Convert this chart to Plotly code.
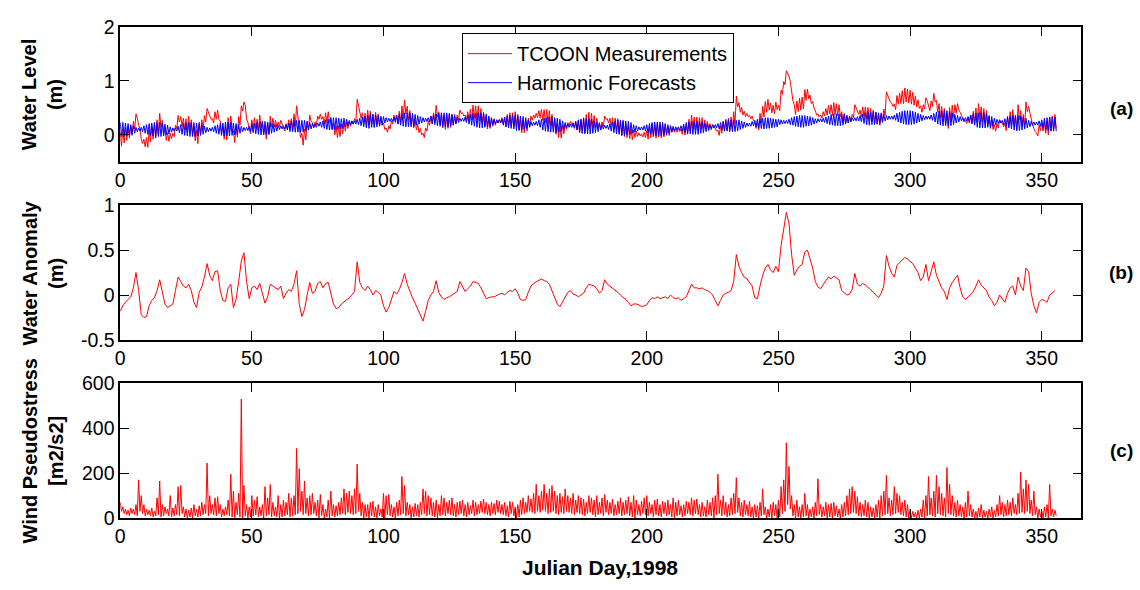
import numpy as np
import plotly.graph_objects as go

# ---------------- data (daily) ----------------
days = list(range(356))  # Julian day index 0..355

# Harmonic forecast: daily high / daily low (cm)
tide_hi_cm = [
 23,23,22,21,19,17,14,13,14,17, 19,21,22,23,23,23,22,20,18,15,
 13,13,16,19,21,22,23,23,23,22, 21,19,16,14,13,14,17,19,21,22,
 24,24,23,22,21,19,16,14,14,16, 20,22,23,24,24,25,24,23,21,19,
 18,17,17,19,22,26,27,27,27,27, 27,25,23,21,20,22,24,26,28,29,
 32,32,32,31,30,31,29,27,26,26, 29,31,33,35,36,38,38,37,36,34,
 34,32,31,31,33,36,38,40,41,41, 41,40,38,36,34,32,31,32,35,37,
 39,40,41,41,41,40,38,36,33,31, 31,33,36,38,40,40,41,41,40,39,
 35,32,30,28,28,30,33,35,36,37, 36,36,35,34,32,28,25,24,25,28,
 29,31,32,33,33,32,31,29,26,23, 20,20,22,25,28,29,30,30,30,29,
 26,24,21,19,18,18,21,24,26,27, 27,27,26,25,23,19,17,15,15,17,
 19,21,23,24,24,24,23,21,19,17, 16,15,15,17,20,23,24,25,25,25,
 25,24,22,20,18,19,19,21,23,25, 27,28,28,28,27,28,26,24,22,22,
 25,27,29,30,31,32,32,31,30,29, 29,28,27,27,29,32,34,35,36,36,
 36,35,34,32,30,30,30,31,33,35, 38,39,39,39,38,38,36,34,32,32,
 34,36,39,41,42,43,43,42,41,39, 38,36,35,35,37,40,42,44,45,45,
 45,44,42,40,38,36,35,35,37,40, 42,44,45,45,45,43,41,38,36,34,
 32,32,34,37,40,40,41,41,41,40, 36,34,31,29,28,27,30,33,35,37,
 36,36,35,33,31,27,25,24,24,26, 28,31,32,33,33,33]
tide_lo_cm = [
 -3,-3,-2,-1,1,3,6,7,6,3, 1,-1,-2,-3,-3,-3,-2,0,2,5,
 7,7,4,1,-1,-2,-3,-3,-3,-2, -1,1,4,6,7,6,3,1,-1,-2,
 -2,-2,-1,0,1,3,6,8,8,6, 4,2,1,0,0,1,2,3,5,7,
 10,11,11,9,6,6,5,5,5,5, 7,9,11,13,14,16,14,12,10,9,
 10,10,10,11,12,15,17,19,20,20, 19,17,15,13,12,14,14,15,16,18,
 22,24,25,25,23,20,18,16,15,15, 15,16,18,20,22,24,25,24,21,19,
 17,16,15,15,15,16,18,20,23,25, 25,23,20,18,16,14,13,13,14,15,
 15,18,20,22,22,18,15,13,12,11, 8,8,9,10,12,14,17,18,17,14,
 9,7,6,5,5,4,5,7,10,13, 14,14,12,9,6,3,2,2,2,3,
 4,6,9,11,12,10,7,4,2,1, -1,-1,0,1,3,5,7,9,9,7,
 3,1,-1,-2,-2,-2,-1,1,3,5, 8,9,9,7,4,3,2,1,1,1,
 3,4,6,8,10,13,13,11,9,7, 7,6,6,6,7,10,12,14,16,16,
 17,15,13,12,11,12,12,13,14,15, 19,20,21,21,19,18,16,15,14,14,
 16,17,18,20,22,24,24,23,21,19, 18,17,17,17,18,20,22,24,26,26,
 26,24,21,19,18,19,19,20,21,23, 26,28,29,29,27,24,22,20,19,19,
 19,20,22,24,26,28,29,29,27,24, 20,18,17,17,17,17,19,22,24,26,
 26,26,24,21,18,14,13,13,13,14, 14,16,19,21,22,19,16,13,11,9,
 8,8,9,11,13,15,17,18,18,16, 12,9,8,7,7,7]

# TCOON measurements: daily high / daily low (cm)
meas_hi_cm = [
 5,11,14,16,17,25,39,18,-8,-8, -5,9,16,20,28,40,27,10,4,3,
 3,18,36,34,31,30,35,28,15,8, 24,28,36,49,35,30,43,46,26,16,
 17,32,35,8,16,34,54,61,29,12, 28,32,29,37,26,16,22,35,31,27,
 24,27,13,21,28,30,39,54,17,3, 11,25,37,23,24,35,39,34,41,43,
 32,22,17,17,20,23,24,24,26,30, 66,45,41,40,46,44,38,42,39,34,
 22,13,17,26,37,37,44,54,65,53, 45,37,29,20,12,3,13,26,35,41,
 55,43,39,36,38,38,38,38,37,46, 41,37,43,48,55,54,54,49,42,35,
 32,30,28,28,29,32,33,38,41,41, 43,38,30,28,27,31,35,37,40,45,
 47,47,47,45,38,29,21,16,18,20, 23,25,23,25,26,29,32,38,42,40,
 36,31,23,24,35,30,31,32,31,30, 27,25,21,17,11,9,7,4,2,5,
 8,15,20,20,22,20,20,19,15,17, 13,11,12,11,16,21,29,37,33,33,
 32,32,28,25,21,19,13,9,17,25, 29,31,33,43,72,60,51,44,40,36,
 35,24,25,40,53,62,66,59,55,61, 55,83,99,119,109,77,56,63,68,70,
 84,85,74,62,45,39,37,43,49,55, 56,60,58,56,43,40,36,35,38,56,
 46,46,52,52,51,49,46,42,38,41, 48,80,67,59,57,73,78,82,87,85,
 83,79,72,65,54,56,69,51,63,77, 64,58,53,49,40,51,55,56,58,42,
 30,27,32,37,44,50,58,52,49,45, 34,28,19,21,28,23,22,35,43,47,
 36,56,45,38,61,53,27,12,4,18, 23,25,24,33,35,38]
meas_lo_cm = [
 -21,-15,-10,-6,-1,11,31,12,-16,-22, -23,-13,-8,-6,2,14,3,-10,-12,-7,
 -3,12,24,16,9,6,9,2,-11,-16, 2,10,24,41,29,22,29,28,4,-8,
 -9,6,11,-14,-4,18,44,55,23,2, 12,12,7,13,2,-8,0,15,15,15,
 16,21,7,11,12,10,17,32,-5,-19, -9,9,25,15,18,29,29,20,23,23,
 10,0,-5,-3,2,7,12,16,20,24, 56,31,23,18,22,20,14,20,19,18,
 10,5,11,20,27,21,24,30,39,27, 19,13,9,4,0,-5,7,18,21,23,
 33,19,13,10,12,14,18,22,27,40, 35,27,27,28,31,28,26,21,16,11,
 12,16,18,22,23,20,15,16,17,15, 15,10,4,4,7,17,27,31,32,31,
 27,23,21,17,10,1,-5,-6,2,10, 17,19,13,9,4,3,4,10,14,14,
 14,13,11,16,29,22,17,12,7,4, -1,-3,-5,-7,-9,-5,-3,-2,-4,-5,
 -8,-5,-4,-6,-4,-6,-4,-1,-1,5, 5,5,6,1,0,1,7,13,9,9,
 10,12,12,13,13,13,7,-1,3,7, 9,9,11,21,52,42,37,34,34,30,
 27,12,9,22,33,42,46,41,39,47, 45,75,93,113,99,63,38,43,46,48,
 64,67,58,50,37,33,31,35,37,39, 36,38,36,34,23,22,22,25,32,50,
 38,34,34,30,27,25,22,20,18,25, 36,72,61,53,47,57,58,58,61,59,
 57,55,52,49,42,48,63,45,53,61, 42,32,25,21,12,25,33,40,46,34,
 24,21,22,21,22,24,30,24,21,19, 12,10,7,13,22,15,8,15,19,19,
 8,28,19,16,43,41,19,6,-2,8, 7,3,0,7,9,12]

# Water anomaly (cm), daily
anomaly_cm = [
 -18,-12,-8,-5,-2,8,25,5,-22,-25, -24,-12,-6,-3,5,17,5,-10,-14,-12,
 -10,5,20,15,10,8,12,5,-8,-14, 3,9,20,35,22,16,26,27,5,-6,
 -7,8,12,-14,-5,15,38,47,15,-4, 8,10,6,13,2,-9,-2,12,10,8,
 6,10,-4,2,6,4,12,27,-10,-24, -16,0,14,2,4,13,15,8,13,14,
 0,-10,-15,-14,-10,-8,-5,-3,0,4, 37,14,8,5,10,6,0,5,3,0,
 -12,-19,-14,-5,4,1,6,14,24,12, 4,-3,-9,-16,-22,-29,-18,-6,0,4,
 16,3,-2,-5,-3,-2,0,2,4,15, 10,4,7,10,15,14,13,8,2,-4,
 -3,-2,-2,0,1,2,0,3,5,4, 7,2,-5,-6,-5,3,10,13,15,17,
 18,16,15,12,5,-3,-10,-13,-8,-3, 3,5,1,0,-2,0,2,8,12,11,
 10,7,2,5,17,12,10,8,5,3, 0,-2,-5,-8,-12,-10,-10,-11,-13,-12,
 -11,-6,-3,-4,-2,-4,-3,-2,-4,0, -3,-4,-3,-6,-4,-2,5,12,8,8,
 7,8,6,5,3,0,-6,-12,-6,0, 2,3,5,15,45,32,25,20,18,14,
 10,-3,-4,10,22,30,34,28,25,32, 26,55,72,92,80,45,22,28,32,34,
 48,50,40,30,15,9,7,12,16,20, 18,21,19,17,5,2,0,1,6,24,
 12,10,13,11,9,6,3,0,-3,2, 10,44,32,24,20,33,36,38,42,40,
 38,35,30,25,16,20,34,16,26,37, 22,14,8,4,-5,8,14,18,22,8,
 -2,-5,-2,0,4,10,17,11,8,5, -2,-6,-12,-8,0,-4,-8,2,8,10,
 0,20,10,5,30,26,2,-12,-20,-8, -5,-6,-8,0,2,5]

# Wind pseudostress (m2/s2): daily max / daily min
wind_hi = [
 70,50,40,35,45,40,60,170,100,60, 40,35,45,30,90,165,60,50,40,100,
 45,60,140,145,50,40,35,45,60,40, 55,70,60,245,100,60,90,95,60,40,
 50,80,195,120,70,110,530,145,60,50, 100,80,95,50,60,140,90,150,70,50,
 100,60,80,70,110,90,100,310,220,120, 165,90,100,110,70,80,105,60,40,80,
 120,60,55,70,90,130,110,120,100,130, 240,110,70,60,60,70,75,50,60,40,
 110,100,105,60,50,70,80,185,145,70, 60,50,65,60,70,130,120,100,90,70,
 80,60,100,90,70,80,90,60,70,75, 80,60,70,55,80,70,60,75,85,70,
 60,70,65,80,75,60,70,55,75,70, 50,60,80,90,70,100,85,110,150,100,
 120,150,110,130,145,120,100,110,95,130, 100,90,110,80,100,90,85,70,100,90,
 80,100,70,90,105,80,70,85,60,75, 90,70,80,95,70,100,80,60,75,90,
 100,70,60,80,85,60,75,70,80,60, 90,70,80,55,60,75,70,90,80,85,
 60,70,50,80,70,90,100,195,80,100, 70,60,90,110,180,90,70,80,60,75,
 50,60,55,70,130,50,40,60,70,60, 80,140,170,335,230,100,60,80,50,60,
 110,60,40,50,70,175,60,50,70,60, 65,70,55,40,60,70,100,130,140,120,
 95,70,60,80,70,50,45,60,80,100, 120,190,90,80,140,110,100,70,80,60,
 40,30,25,35,40,80,100,185,90,120, 190,140,110,90,225,150,100,70,80,60,
 50,70,120,60,40,30,45,60,35,30, 40,50,35,60,100,70,60,80,70,90,
 60,110,205,130,170,150,80,120,50,40, 30,50,60,150,40,35]
wind_lo = [
 30,20,15,10,20,15,10,30,20,10, 15,10,5,10,15,5,10,20,10,5,
 10,15,10,20,5,0,5,0,10,5, 10,15,20,10,20,15,10,20,5,10,
 15,10,5,0,15,5,0,10,0,5, 10,15,5,10,0,10,15,5,10,5,
 0,5,10,15,5,10,15,20,30,15, 20,10,15,20,10,0,10,0,5,0,
 10,5,10,15,20,15,25,20,15,20, 30,10,0,5,0,10,5,0,10,5,
 0,15,10,5,0,10,15,20,10,15, 0,5,10,5,15,20,10,15,10,5,
 0,10,15,10,20,15,10,5,15,20, 10,5,15,20,10,15,20,25,20,15,
 10,20,15,25,20,15,10,5,20,10, 0,5,15,20,25,30,25,20,30,25,
 35,30,20,25,30,20,15,25,20,30, 25,20,15,25,20,15,10,20,25,15,
 5,15,20,10,25,15,20,10,15,20, 10,15,20,10,5,0,15,10,20,15,
 10,20,5,15,10,5,20,10,15,5, 0,10,15,5,10,20,15,10,20,15,
 5,10,5,15,10,0,15,20,10,15, 5,10,15,20,25,10,5,15,10,5,
 0,5,0,10,15,0,5,0,10,0, 5,20,30,60,40,10,0,5,0,5,
 10,0,5,0,10,15,5,10,0,5, 0,10,5,0,5,10,15,20,25,20,
 10,5,10,5,0,5,0,5,0,10, 15,20,10,15,20,25,15,10,5,0,
 0,5,0,0,5,0,10,15,10,5, 20,15,10,5,20,15,10,5,10,5,
 0,5,10,5,0,0,5,0,5,0, 5,0,5,10,15,5,10,15,10,20,
 15,20,25,20,30,20,10,15,0,5, 0,5,0,10,5,10]

x_ticks = [0, 50, 100, 150, 200, 250, 300, 350]
panel_labels = ["(a)", "(b)", "(c)"]
y_titles = ["Water Level<br>(m)", "Water Anomaly<br>(m)", "Wind Pseudostress<br>[m2/s2]"]
legend_names = ["TCOON Measurements", "Harmonic Forecasts"]
x_title = "Julian Day,1998"

# ---------------- build series ----------------
d = np.array(days, dtype=float)
x_half = np.column_stack([d, d + 0.5]).ravel()

def hl(hi, lo, scale=1.0):
    return np.column_stack([np.array(hi, float), np.array(lo, float)]).ravel() * scale

RED = "#ff0000"
BLUE = "#0000ff"
FONT = "Liberation Sans, Arial, Helvetica, sans-serif"

fig = go.Figure()
fig.add_trace(go.Scatter(x=x_half, y=hl(meas_hi_cm, meas_lo_cm, 0.01), mode="lines",
                         line=dict(color=RED, width=1), name=legend_names[0],
                         xaxis="x", yaxis="y"))
fig.add_trace(go.Scatter(x=x_half, y=hl(tide_hi_cm, tide_lo_cm, 0.01), mode="lines",
                         line=dict(color=BLUE, width=1), name=legend_names[1],
                         xaxis="x", yaxis="y"))
fig.add_trace(go.Scatter(x=d, y=np.array(anomaly_cm, float) * 0.01, mode="lines",
                         line=dict(color=RED, width=1), showlegend=False,
                         xaxis="x2", yaxis="y2"))
fig.add_trace(go.Scatter(x=x_half, y=hl(wind_hi, wind_lo), mode="lines",
                         line=dict(color=RED, width=1), showlegend=False,
                         xaxis="x3", yaxis="y3"))

W, H = 1140, 590
xdom = [115.7 / W, 1081 / W]
panels_px = [(16.7, 156.7), (201.7, 341.7), (386.7, 526.7)]
ydoms = [[1 - b / H, 1 - t / H] for (t, b) in panels_px]

axis_common = dict(showline=True, linecolor="black", linewidth=1.5, mirror="ticks",
                   ticks="inside", ticklen=9, tickwidth=1, tickcolor="black",
                   showgrid=False, zeroline=False,
                   tickfont=dict(family=FONT, size=19.5, color="black"))

layout = dict(width=W, height=H, margin=dict(l=0, r=0, t=0, b=0),
              paper_bgcolor="white", plot_bgcolor="white",
              font=dict(family=FONT, color="black"))
yranges = [[-0.5, 2], [-0.5, 1], [0, 600]]
ytickvals = [[0, 1, 2], [-0.5, 0, 0.5, 1], [0, 200, 400, 600]]
yticktext = [["0", "1", "2"], ["-0.5", "0", "0.5", "1"], ["0", "200", "400", "600"]]
for i in range(3):
    sx = "" if i == 0 else str(i + 1)
    layout["xaxis" + sx] = dict(axis_common, domain=xdom, range=[0, 365],
                                tickvals=x_ticks, anchor="y" + sx)
    layout["yaxis" + sx] = dict(axis_common, domain=ydoms[i], range=yranges[i],
                                tickvals=ytickvals[i], ticktext=yticktext[i],
                                anchor="x" + sx)
fig.update_layout(**layout)

fig.update_layout(legend=dict(x=459 / W, y=1 - 23 / H, xanchor="left", yanchor="top",
                              bgcolor="white", bordercolor="black", borderwidth=1,
                              font=dict(family=FONT, size=20, color="black"),
                              itemwidth=44, tracegroupgap=0))

annotations = []
for i in range(3):
    t, b = panels_px[i]
    yc = 1 - (t + b) / 2 / H
    annotations.append(dict(text="<b>" + y_titles[i] + "</b>", x=38 / W, y=yc,
                            xref="paper", yref="paper", xanchor="center", yanchor="middle",
                            textangle=-90, showarrow=False,
                            font=dict(family=FONT, size=20, color="black")))
    annotations.append(dict(text="<b>" + panel_labels[i] + "</b>", x=1121 / W, y=yc + (0.0 if i else -0.024),
                            xref="paper", yref="paper", xanchor="center", yanchor="middle",
                            showarrow=False, font=dict(family=FONT, size=19, color="black")))
annotations.append(dict(text="<b>" + x_title + "</b>", x=598 / W, y=1 - 578 / H,
                        xref="paper", yref="paper", xanchor="center", yanchor="middle",
                        showarrow=False, font=dict(family=FONT, size=21, color="black")))
fig.update_layout(annotations=annotations)

fig.write_html("out.html", config={"displayModeBar": False},
               post_script="document.body.style.margin='0';document.body.style.padding='0';"
                           "document.documentElement.style.overflow='hidden';")
